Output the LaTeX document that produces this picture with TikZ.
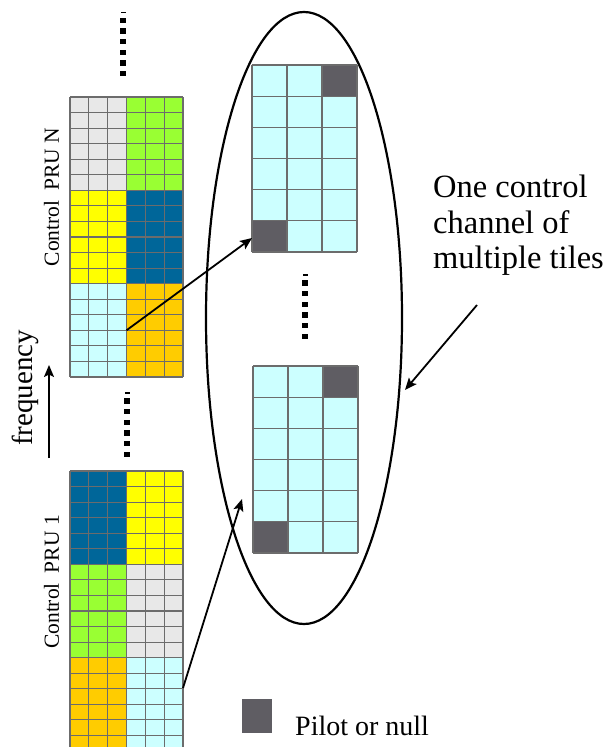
\documentclass[tikz,border=0pt]{standalone}
\usepackage{fontspec}
\setmainfont{Liberation Serif}
\usetikzlibrary{arrows.meta,shapes.geometric}

\definecolor{cellgray}{HTML}{E8E8E8}
\definecolor{cellgreen}{HTML}{99FF33}
\definecolor{cellyellow}{HTML}{FFFF00}
\definecolor{cellblue}{HTML}{006699}
\definecolor{cellorange}{HTML}{FFCC00}
\definecolor{cellcyan}{HTML}{CCFFFF}
\definecolor{pilotgray}{HTML}{5F5D63}
\definecolor{gridgray}{HTML}{6C6C6C}

\tikzset{
  gridline/.style={draw=gridgray, line width=1.1pt},
  arr/.style={line width=1.8pt, -{Stealth[length=12pt, width=10pt, inset=2.5pt]}},
  prulabel/.style={rotate=90, inner sep=0pt, font=\fontsize{21.5}{26}\selectfont},
  dotsq/.style={fill=black},
}

\begin{document}
\begin{tikzpicture}[x=1pt, y=-1pt]
\useasboundingbox (0,0) rectangle (605,747);

% ---- the two control PRUs (6 x 18 grids, three 6-row groups each)
\foreach \yo/\ca/\cb/\cc/\cd/\ce/\cf in {
    97/cellgray/cellgreen/cellyellow/cellblue/cellcyan/cellorange,
    471/cellblue/cellyellow/cellgreen/cellgray/cellorange/cellcyan} {
  \fill[\ca] (70,\yo) rectangle (126.5,\yo+93.33);
  \fill[\cb] (126.5,\yo) rectangle (183,\yo+93.33);
  \fill[\cc] (70,\yo+93.33) rectangle (126.5,\yo+186.67);
  \fill[\cd] (126.5,\yo+93.33) rectangle (183,\yo+186.67);
  \fill[\ce] (70,\yo+186.67) rectangle (126.5,\yo+280);
  \fill[\cf] (126.5,\yo+186.67) rectangle (183,\yo+280);
  \foreach \i in {0,...,18}
    \draw[gridline] (70,\yo+\i*15.556) -- (183,\yo+\i*15.556);
  \foreach \j in {0,...,6}
    \draw[gridline] (70+\j*18.833,\yo) -- (70+\j*18.833,\yo+280);
}
\node[inner sep=0pt, minimum width=113pt, minimum height=280pt, anchor=north west] (pruN) at (70,97) {};
\node[inner sep=0pt, minimum width=113pt, minimum height=280pt, anchor=north west] (pru1) at (70,471) {};

% ---- tiles of one control channel (3 x 6, pilots in two corners)
\foreach \tx/\ty/\nm in {252/65/tileA, 253/366/tileB} {
  \fill[cellcyan] (\tx,\ty) rectangle (\tx+105,\ty+187);
  \fill[pilotgray] (\tx+70,\ty) rectangle (\tx+105,\ty+31.17);
  \fill[pilotgray] (\tx,\ty+155.83) rectangle (\tx+35,\ty+187);
  \foreach \i in {0,...,6}
    \draw[gridline] (\tx,\ty+\i*31.167) -- (\tx+105,\ty+\i*31.167);
  \foreach \j in {0,...,3}
    \draw[gridline] (\tx+\j*35,\ty) -- (\tx+\j*35,\ty+187);
  \node[inner sep=0pt, minimum width=105pt, minimum height=187pt, anchor=north west] (\nm) at (\tx,\ty) {};
}

% ---- vertical dotted continuation marks
\foreach \cx/\dy in {123/12.3, 127/393, 305/275} {
  \fill (\cx-2.5,\dy-0.6) rectangle (\cx+2.5,\dy+0.6);
  \foreach \k in {0,...,5}
    \fill[dotsq] (\cx-2.6,\dy+8+\k*10.67-2.6) rectangle (\cx+2.6,\dy+8+\k*10.67+2.6);
}

% ---- ellipse grouping the tiles
\node[ellipse, draw, line width=2.2pt, inner sep=0pt,
      minimum width=196pt, minimum height=612pt] (chan) at (304,318) {};

% ---- labels
\node[prulabel] (lblN) at (51.5,197) {Control\hspace{10pt}PRU N};
\node[prulabel] (lbl1) at (51.5,582) {Control\hspace{10pt}PRU 1};
\node[rotate=90, inner sep=0pt, font=\fontsize{29}{34}\selectfont] (freq) at (25,388) {frequency};

\node[anchor=north west, inner sep=0pt, align=left,
      font=\fontsize{32.5}{35.5}\selectfont] (note) at (433,175)
  {One control\\channel of\\multiple tiles};

\node[fill=pilotgray, inner sep=0pt, minimum width=30pt, minimum height=34pt,
      anchor=north west] (legsq) at (242,699) {};
\node[anchor=base west, inner sep=0pt, font=\fontsize{28}{32}\selectfont] (legtxt) at (295,735) {Pilot or null};

% ---- arrows
\coordinate (fbot) at (49,458);
\coordinate (ftop) at (49,365);
\draw[arr] (fbot) -- (ftop);

\coordinate (srcN) at (126.5,330.3);
\coordinate (dstA) at (252,238);
\draw[arr] (srcN) -- (dstA);

\coordinate (src1) at (183,688);
\coordinate (dstB) at (242,499);
\draw[arr] (src1) -- (dstB);

\coordinate (notefoot) at (477,305);
\coordinate (chanedge) at (405,390);
\draw[arr] (notefoot) -- (chanedge);
\end{tikzpicture}
\end{document}
